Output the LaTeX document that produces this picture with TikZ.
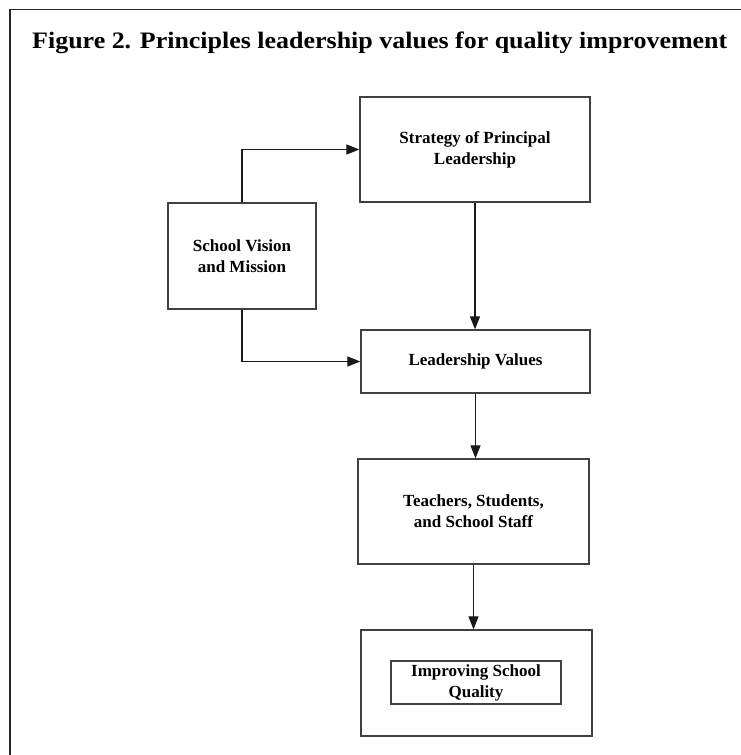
\documentclass[tikz,border=0pt]{standalone}
\usepackage{fontspec}
\setmainfont{Liberation Serif}
\usepackage{graphicx}
\usetikzlibrary{arrows.meta}
\begin{document}
\begin{tikzpicture}[x=1pt,y=-1pt,
  box/.style={draw=black!75, line width=1.3pt, align=center,
    font=\bfseries\fontsize{17}{21}\selectfont, inner sep=0pt},
  conn/.style={draw=black!90, line width=1.2pt, -{Triangle[length=13pt,width=10pt]}}]
\useasboundingbox (0,0) rectangle (741,755);
\fill[white] (0,0) rectangle (741,755);
\draw[line width=1.6pt, black!85] (10,755) -- (10,9.5) -- (741,9.5);
\node[anchor=base west, inner sep=0pt] (title) at (32,48.3)
  {\resizebox{695pt}{16.6pt}{\bfseries\fontsize{24}{28}\selectfont Figure 2. Principles leadership values for quality improvement}};
\node[box, minimum width=230pt, minimum height=105pt] (strat) at (475,149.5) {Strategy of Principal\\Leadership};
\node[box, minimum width=148pt, minimum height=106pt] (vision) at (242,256) {School Vision\\and Mission};
\node[box, minimum width=229pt, minimum height=63pt] (values) at (475.5,361.5) {Leadership Values};
\node[box, minimum width=231pt, minimum height=105pt] (teach) at (473.5,511.5) {Teachers, Students,\\and School Staff};
\node[box, minimum width=231pt, minimum height=106pt] (outer) at (476.5,683) {};
\node[box, minimum width=170pt, minimum height=43pt] (inner) at (476,682.5) {Improving School\\Quality};
\draw[conn] (vision.north) |- (strat.west);
\draw[conn] (vision.south) |- (values.west);
\draw[conn] (strat.south) -- (strat.south |- values.north);
\draw[conn] (values.south) -- (values.south |- teach.north);
\draw[conn] (teach.south) -- (teach.south |- outer.north);
\end{tikzpicture}
\end{document}
